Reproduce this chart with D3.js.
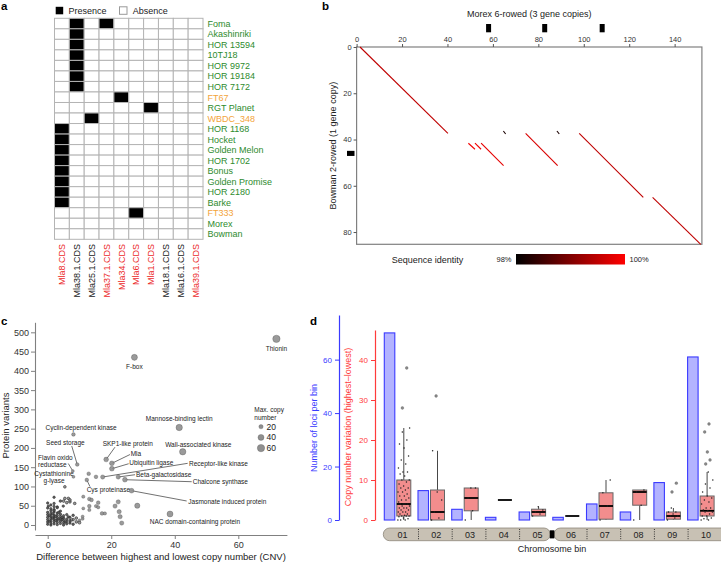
<!DOCTYPE html>
<html><head><meta charset="utf-8">
<script src="https://cdn.jsdelivr.net/npm/d3@7/dist/d3.min.js"></script>
<style>
body{margin:0;background:#fff;}
svg{font-family:"Liberation Sans",Arial,Helvetica,sans-serif;}
</style></head><body>
<svg id="fig" width="721" height="562"></svg>
<script>
// ===== Panel a data =====
const mlaGenes = ["Mla8.CDS","Mla38.1.CDS","Mla25.1.CDS","Mla37.1.CDS","Mla34.CDS","Mla6.CDS","Mla1.CDS","Mla18.1.CDS","Mla16.1.CDS","Mla39.1.CDS"];
const mlaGeneRed = [true,false,false,true,true,true,true,false,false,true];
const accessions = ["Foma","Akashinriki","HOR 13594","10TJ18","HOR 9972","HOR 19184","HOR 7172","FT67","RGT Planet","WBDC_348","HOR 1168","Hocket","Golden Melon","HOR 1702","Bonus","Golden Promise","HOR 2180","Barke","FT333","Morex","Bowman"];
const orangeAccessions = ["FT67","WBDC_348","FT333"];
const presentGenes = [[1,3],[1],[1],[1],[1],[1],[1],[4],[6],[2],[0],[0],[0],[0],[0],[0],[0],[0],[5],[],[]];

// ===== Panel b data =====
const morexLength = 152, bowmanLength = 85.3;
const morexTicks = [0,20,40,60,80,100,120,140];
const bowmanTicks = [0,20,40,60,80];
const morexCopies = [58.1, 82.8, 108.1];
const bowmanCopies = [46];
const segX1 = [1.5, 49.2, 52.1, 54.8, 64.6, 74.4, 88.2, 98.0, 130.3];
const segY1 = [0.0, 41.6, 41.6, 41.6, 36.3, 37.3, 36.3, 37.3, 65.0];
const segX2 = [40.2, 52.1, 54.8, 64.7, 65.6, 88.5, 89.2, 126.2, 151.5];
const segY2 = [37.3, 44.2, 44.2, 51.3, 37.6, 51.3, 37.6, 65.0, 85.3];
const segIdentity = [99.5, 99.9, 99.9, 99.8, 98.2, 99.7, 98.2, 99.5, 99.5];

// ===== Panel c data =====
const labelNames = ["Thionin","F-box","Mannose-binding lectin","Cyclin-dependent kinase","Seed storage","Flavin oxido\nreductase","Cystathionine\ng-lyase","Cys proteinase","SKP1-like protein","Mla","Ubiquitin ligase","Receptor-like kinase","Beta-galactosidase","Chalcone synthase","Jasmonate induced protein","Wall-associated kinase","NAC domain-containing protein"];
const labelCnv = [72, 27.3, 41.4, 8.1, 9.3, 7.9, 8.1, 12.3, 18.4, 20.2, 20.2, 17.3, 22.2, 24.3, 26.4, 42.5, 38.5];
const labelVariants = [483, 435, 253, 235, 157, 140, 125, 117, 170, 160, 146, 124.5, 124.5, 117.5, 89, 190, 28.5];
const labelMaxCopy = [60, 40, 45, 15, 15, 10, 10, 15, 25, 25, 25, 20, 20, 25, 25, 45, 40];
const otherCnv = [12.9,15.2,5.4,2.0,11.2,13.1,13.8,15.9,13.1,15.2,17.1,22.2,21.2,22.5,22.8,28.2,23.3,13.1,6.5,7.0,4.9,0.2,11.2,15.9,18.0,5.4,7.0,8.5,6,5,
  0,0,0,0,0,0,0, 1,1,1,1,1,1,1, 2,2,2,2,2,2,2, 3,3,3,3,3,3, 4,4,4,4,4,4, 5,5,5,5,5, 6,6,6,6, 7,7,7, 8,8,8, 9,9, 10,10, 11,11, 1,2,3,4,2,0,
  0.5,1.5,2.5,3.5,4.5,5.5,0.5,1.5,2.5,3.5,4.5,6.5,7.5,1,2,3];
const otherVariants = [133,125,99,72,73.5,67.5,65,58,49,49,30,60,49,34.5,21.5,50,5,39,69,60,49,49,43,46,30,69,65,56,58,62,
  2,8,14,20,27,33,44, 0,5,11,17,23,30,37, 3,9,15,21,26,34,40, 1,7,13,19,25,31, 4,10,16,22,28,36, 0,6,12,18,24, 3,9,15,27, 5,11,20, 2,14,25, 8,18, 6,12, 16,22, 52,56,47,62,48,57,
  10,18,12,16,19,8,24,29,22,33,14,21,13,42,38,45];
const otherMaxCopy = [15,15,8,6,12,15,15,15,15,12,15,20,20,20,20,30,20,12,8,8,6,3,10,12,12,8,8,8,8,8,
  2,2,3,2,3,2,3, 3,2,3,3,2,4,3, 3,4,3,4,3,4,4, 4,4,5,4,5,4, 5,5,4,5,5,6, 5,6,5,6,5, 6,6,7,6, 7,7,6, 7,8,7, 8,8, 9,10, 10,10, 5,6,6,7,6,4,
  2,3,3,4,5,6,2,3,3,4,5,7,8,3,3,4];
const cXTicks = [0,20,40,60];
const cYTicks = [0,50,100,150,200,250,300,350,400,450,500];
const legendCopies = [20,40,60];

// ===== Panel d data =====
const bins = ["01","02","03","04","05","06","07","08","09","10"];
const lociPerBin = [70, 11, 4, 1, 3, 1, 6, 3, 14, 61];
const boxQ1 = [1, 0, 2.3, 5, 1, 1, 0.2, 3.7, 0.2, 1];
const boxMedian = [4, 2, 5.5, 5, 2, 1, 3.5, 7, 1, 2.3];
const boxQ3 = [10, 7.5, 8, 5, 2.7, 1, 6.8, 7.5, 2, 6];
const whiskerLow = [0, 0, 0, 5, 1, 1, 0, 0, 0, 0];
const whiskerHigh = [23, 17.3, 8, 5, 3.3, 1, 10, 7.5, 3, 12];
const binPoints = [
  [0,0,0,0.3,0.5,0.8,1,1,1,1.2,1.5,1.5,2,2,2,2.5,2.5,3,3,3,3.5,3.5,4,4,4,4,4.5,5,5,5.5,6,6,6.5,7,7,7.5,8,8,8.5,9,9.5,10,10,11,11.5,12,12,13,14,15,16,18,19,20,22,23],
  [0,0.5,2,5,7,17.3],
  [0,2.3,5.5,8,8],
  [5],
  [1,1.5,2,2.5,3.3],
  [1],
  [0,3.5,6.8,10],
  [0,3.7,7,7.5],
  [0,0.5,1,1,1.5,2,2,3],
  [0,0,0.3,0.5,1,1,1.5,2,2,2.3,2.5,3,3,4,4.5,5,5.5,6,7,8,9,10,12]
];
const binOutliers = [[28,38],[31],[],[],[],[],[],[],[7,9.2],[14,15,17,22,24]];
const blueTicks = [0,20,40,60];
const redTicks = [0,10,20,30,40];

// =================== drawing ===================
const svg = d3.select("#fig");
function panelLabel(t,x,y){ svg.append("text").attr("x",x).attr("y",y).attr("font-weight","bold").attr("font-size",11.5).attr("fill","#000").text(t); }

// ---------- Panel a ----------
panelLabel("a",1,10);
const aX = d3.scaleBand().domain(mlaGenes).range([54.5,203]);
const aY = d3.scaleBand().domain(accessions).range([18.3,239.3]);
const ga = svg.append("g");
accessions.forEach((acc,i)=>{
  mlaGenes.forEach((g,j)=>{
    const on = presentGenes[i].includes(j);
    ga.append("rect").attr("x",aX(g)).attr("y",aY(acc)).attr("width",aX.bandwidth()).attr("height",aY.bandwidth())
      .attr("fill",on?"#000":"#fff").attr("stroke","#b4b4b4").attr("stroke-width",1);
  });
  ga.append("text").attr("x",207.5).attr("y",aY(acc)+aY.bandwidth()/2+3.3).attr("font-size",9)
    .attr("fill",orangeAccessions.includes(acc)?"#f3a43a":"#2e8b2e").text(acc);
});
mlaGenes.forEach((g,j)=>{
  const cx = aX(g)+aX.bandwidth()/2+3.2;
  ga.append("text").attr("transform",`translate(${cx},244) rotate(-90)`).attr("text-anchor","end")
    .attr("font-size",9).attr("fill",mlaGeneRed[j]?"#ec2b2b":"#222").text(g);
});
ga.append("rect").attr("x",55.7).attr("y",6.8).attr("width",7.5).attr("height",7.5).attr("fill","#000");
ga.append("text").attr("x",68.5).attr("y",14).attr("font-size",9).attr("fill","#222").text("Presence");
ga.append("rect").attr("x",119.5).attr("y",6.8).attr("width",7.5).attr("height",7.5).attr("fill","#fff").attr("stroke","#999");
ga.append("text").attr("x",132.7).attr("y",14).attr("font-size",9).attr("fill","#222").text("Absence");

// ---------- Panel b ----------
panelLabel("b",322,10);
const bx = d3.scaleLinear().domain([0,morexLength]).range([356.6,701.9]);
const by = d3.scaleLinear().domain([0,bowmanLength]).range([47,244.3]);
const gb = svg.append("g");
gb.append("rect").attr("x",bx(0)).attr("y",by(0)).attr("width",bx(morexLength)-bx(0)).attr("height",by(bowmanLength)-by(0))
  .attr("fill","none").attr("stroke","#808080").attr("stroke-width",1.2);
const axTop = gb.append("g").attr("transform",`translate(0,${by(0)})`)
  .call(d3.axisTop(bx).tickValues(morexTicks).tickSize(3).tickPadding(2));
const axLeftB = gb.append("g").attr("transform",`translate(${bx(0)},0)`)
  .call(d3.axisLeft(by).tickValues(bowmanTicks).tickSize(3).tickPadding(2));
[axTop,axLeftB].forEach(a=>{a.select(".domain").remove(); a.selectAll("line").attr("stroke","#555");
  a.selectAll("text").attr("font-size",7.5).attr("fill","#333").attr("font-family","Liberation Sans, Arial, sans-serif");});
const idColor = d3.scaleLinear().domain([98,100]).range(["#000000","#ff0000"]);
segX1.forEach((x1,i)=>{
  gb.append("line").attr("x1",bx(x1)).attr("y1",by(segY1[i])).attr("x2",bx(segX2[i])).attr("y2",by(segY2[i]))
    .attr("stroke",idColor(segIdentity[i])).attr("stroke-width",1.1);
});
morexCopies.forEach(c=>{
  gb.append("rect").attr("x",bx(c-1.1)).attr("y",24).attr("width",bx(c+1.1)-bx(c-1.1)).attr("height",8.3).attr("fill","#000");
});
bowmanCopies.forEach(c=>{
  gb.append("rect").attr("x",347).attr("y",by(c-1.1)).attr("width",7.5).attr("height",by(c+1.1)-by(c-1.1)).attr("fill","#000");
});
gb.append("text").attr("x",(bx(0)+bx(morexLength))/2).attr("y",16.5).attr("text-anchor","middle").attr("font-size",9).attr("fill","#222").text("Morex 6-rowed (3 gene copies)");
gb.append("text").attr("transform",`translate(336,${(by(0)+by(bowmanLength))/2}) rotate(-90)`).attr("text-anchor","middle").attr("font-size",9).attr("fill","#222").text("Bowman 2-rowed (1 gene copy)");
const defs = svg.append("defs");
const grad = defs.append("linearGradient").attr("id","idgrad");
grad.append("stop").attr("offset","0%").attr("stop-color","#000");
grad.append("stop").attr("offset","100%").attr("stop-color","#ff0000");
gb.append("text").attr("x",391.7).attr("y",262.5).attr("font-size",9).attr("fill","#222").text("Sequence identity");
gb.append("text").attr("x",511.5).attr("y",262).attr("text-anchor","end").attr("font-size",7.5).attr("fill","#222").text("98%");
gb.append("rect").attr("x",516).attr("y",254).attr("width",109).attr("height",10.5).attr("fill","url(#idgrad)");
gb.append("text").attr("x",629.5).attr("y",262).attr("font-size",7.5).attr("fill","#222").text("100%");

// ---------- Panel c ----------
panelLabel("c",1,325);
const cx = d3.scaleLinear().domain([-4,75.3]).range([35,286.9]);
const cy = d3.scaleLinear().domain([-13,526]).range([530,322.3]);
const rs = d3.scaleSqrt().domain([0,60]).range([0,3.7]);
const gc = svg.append("g");
const axB = gc.append("g").attr("transform","translate(0,535)").call(d3.axisBottom(cx).tickValues(cXTicks).tickSize(4).tickSizeOuter(0).tickPadding(3));
const axL = gc.append("g").attr("transform","translate(35,0)").call(d3.axisLeft(cy).tickValues(cYTicks).tickSize(4).tickSizeOuter(0).tickPadding(2));
[axB,axL].forEach(a=>{a.select(".domain").attr("stroke","#808080").attr("stroke-width",1.1); a.selectAll("line").attr("stroke","#808080");
  a.selectAll("text").attr("font-size",9).attr("fill","#333").attr("font-family","Liberation Sans, Arial, sans-serif");});
gc.append("text").attr("x",161).attr("y",560).attr("text-anchor","middle").attr("font-size",9.5).attr("fill","#222").text("Difference between highest and lowest copy number (CNV)");
gc.append("text").attr("transform","translate(8.5,425.5) rotate(-90)").attr("text-anchor","middle").attr("font-size",9.5).attr("fill","#222").text("Protein variants");
const labelLayout = [
  [0,12.5,"middle",null,null],[0,11.7,"middle",null,null],[0,-6.9,"middle",null,null],[7.6,-4.8,"middle",null,null],
  [-31.2,-19.9,"start",-5.5,-18.5],[-34.8,-11,"start",-4.5,-7.5],[-19.4,-0.8,"middle",null,null],[-0.1,11.6,"start",3.2,6.7],
  [-3.5,-13.7,"start",8.8,-12.3],[18.8,-7.7,"start",18.1,-8.8],[17.4,-3.7,"start",16.8,-5],[86.3,-11.4,"start",85,-13.7],
  [17.8,-0.4,"start",16.8,-2.3],[67.8,4.3,"start",66.8,2],[56.7,13.3,"start",55.1,10.3],[15.6,-5.2,"middle",null,null],[25,10,"middle",null,null]
];
labelNames.forEach((n,i)=>{
  const L = labelLayout[i]; const px = cx(labelCnv[i]), py = cy(labelVariants[i]);
  if(L[3]!==null) gc.append("line").attr("x1",px+L[3]).attr("y1",py+L[4]).attr("x2",px).attr("y2",py).attr("stroke","#111").attr("stroke-width",0.6);
  const t = gc.append("text").attr("x",px+L[0]).attr("y",py+L[1]).attr("text-anchor",L[2]).attr("font-size",6.5).attr("fill","#222");
  n.split("\n").forEach((s,k)=> t.append("tspan").attr("x",px+L[0]).attr("dy",k?7.3:0).text(s));
});
const allPts = otherCnv.map((v,i)=>({c:v,v:otherVariants[i],m:otherMaxCopy[i]}))
  .concat(labelCnv.map((v,i)=>({c:v,v:labelVariants[i],m:labelMaxCopy[i]})));
allPts.sort((a,b)=>b.m-a.m);
gc.selectAll("circle.pt").data(allPts).join("circle").attr("class","pt")
  .attr("cx",d=>cx(d.c)).attr("cy",d=>cy(d.v)).attr("r",d=>Math.max(1.2,rs(d.m)))
  .attr("fill",d=>d.m<8?"#555":"#8f8f8f").attr("fill-opacity",0.9).attr("stroke","#2a2a2a").attr("stroke-width",d=>d.m<10?0.6:0.25);
gc.append("text").attr("x",254.3).attr("y",412.3).attr("font-size",6.5).attr("fill","#222").text("Max. copy");
gc.append("text").attr("x",254.3).attr("y",420).attr("font-size",6.5).attr("fill","#222").text("number");
legendCopies.forEach((m,k)=>{
  const yy = 426.7 + k*10.7;
  gc.append("circle").attr("cx",261).attr("cy",yy).attr("r",rs(m)).attr("fill","#8f8f8f").attr("stroke","#3a3a3a").attr("stroke-width",0.25);
  gc.append("text").attr("x",266.5).attr("y",yy+3).attr("font-size",8.5).attr("fill","#222").text(m);
});

// ---------- Panel d ----------
panelLabel("d",310,325);
const dx = d3.scaleBand().domain(bins).range([383.3,720.3]);
const blueY = d3.scaleLinear().domain([0,76.7]).range([520,315]);
const redY = d3.scaleLinear().domain([0,47.5]).range([520,330]);
const gd = svg.append("g");
const blue = "#3a3aff", red = "#ff3b3b";
const axBlue = gd.append("g").attr("transform","translate(339,0)").call(d3.axisLeft(blueY).tickValues(blueTicks).tickSize(4).tickSizeOuter(0).tickPadding(3));
const axRed = gd.append("g").attr("transform","translate(375,0)").call(d3.axisLeft(redY).tickValues(redTicks).tickSize(4).tickSizeOuter(0).tickPadding(3));
[[axBlue,blue],[axRed,red]].forEach(([a,col])=>{a.select(".domain").attr("stroke",col).attr("stroke-width",1.2); a.selectAll("line").attr("stroke",col);
  a.selectAll("text").attr("font-size",8).attr("fill",col).attr("font-family","Liberation Sans, Arial, sans-serif");});
gd.append("text").attr("transform","translate(316.5,428) rotate(-90)").attr("text-anchor","middle").attr("font-size",9).attr("fill",blue).text("Number of loci per bin");
gd.append("text").attr("transform","translate(350.5,427) rotate(-90)").attr("text-anchor","middle").attr("font-size",9).attr("fill",red).text("Copy number variation (highest\u2013lowest)");
const chrY = 528, chrH = 12.7;
gd.append("rect").attr("x",dx("01")).attr("y",chrY).attr("width",dx("06")-dx("01")-1.5).attr("height",chrH).attr("rx",6.3).attr("fill","#c8c1b4").attr("stroke","#8d867a").attr("stroke-width",0.8);
gd.append("rect").attr("x",dx("06")+2.2).attr("y",chrY).attr("width",720.3-dx("06")+6).attr("height",chrH).attr("rx",6.3).attr("fill","#c8c1b4").attr("stroke","#8d867a").attr("stroke-width",0.8);
gd.append("rect").attr("x",dx("06")-2).attr("y",chrY+2.3).attr("width",4.6).attr("height",chrH-4.6).attr("fill","#000");
bins.forEach((b,i)=>{
  if(i>0 && b!=="06") gd.append("line").attr("x1",dx(b)+1.5).attr("x2",dx(b)+1.5).attr("y1",chrY+1).attr("y2",chrY+chrH-1).attr("stroke","#222").attr("stroke-width",0.9).attr("stroke-dasharray","1,1.3");
  gd.append("text").attr("x",dx(b)+19.3).attr("y",chrY+9.6).attr("text-anchor","middle").attr("font-size",9).attr("fill","#222").text(b);
});
gd.append("text").attr("x",552).attr("y",552).attr("text-anchor","middle").attr("font-size",9).attr("fill","#222").text("Chromosome bin");
bins.forEach((b,i)=>{
  gd.append("rect").attr("x",dx(b)+1).attr("y",blueY(lociPerBin[i])).attr("width",10.5).attr("height",blueY(0)-blueY(lociPerBin[i]))
    .attr("fill","#b3b3ff").attr("stroke",blue).attr("stroke-width",1.1);
});
bins.forEach((b,i)=>{
  const x0 = dx(b)+13.5, w = 14, xc = x0+w/2;
  if(boxQ3[i]>boxQ1[i]){
    gd.append("line").attr("x1",xc).attr("x2",xc).attr("y1",redY(boxQ3[i])).attr("y2",redY(whiskerHigh[i])).attr("stroke","#333").attr("stroke-width",0.9);
    gd.append("line").attr("x1",xc).attr("x2",xc).attr("y1",redY(boxQ1[i])).attr("y2",redY(whiskerLow[i])).attr("stroke","#333").attr("stroke-width",0.9);
    gd.append("rect").attr("x",x0).attr("y",redY(boxQ3[i])).attr("width",w).attr("height",redY(boxQ1[i])-redY(boxQ3[i]))
      .attr("fill","#f38d8d").attr("stroke","#666").attr("stroke-width",1);
  }
  gd.append("line").attr("x1",x0).attr("x2",x0+w).attr("y1",redY(boxMedian[i])).attr("y2",redY(boxMedian[i])).attr("stroke","#000").attr("stroke-width",1.8);
  binPoints[i].forEach((v,k)=>{
    const j = ((k*0.6180339)%1 - 0.5)*w*0.85;
    gd.append("circle").attr("cx",xc+j).attr("cy",redY(v)).attr("r",0.75).attr("fill","#222");
  });
  binOutliers[i].forEach((v,k)=>{
    const j = ((k*0.6180339+0.3)%1 - 0.5)*w*0.5;
    gd.append("circle").attr("cx",xc+j).attr("cy",redY(v)).attr("r",1.4).attr("fill","#8a8a8a").attr("stroke","#555").attr("stroke-width",0.3);
  });
});
</script></body></html>
